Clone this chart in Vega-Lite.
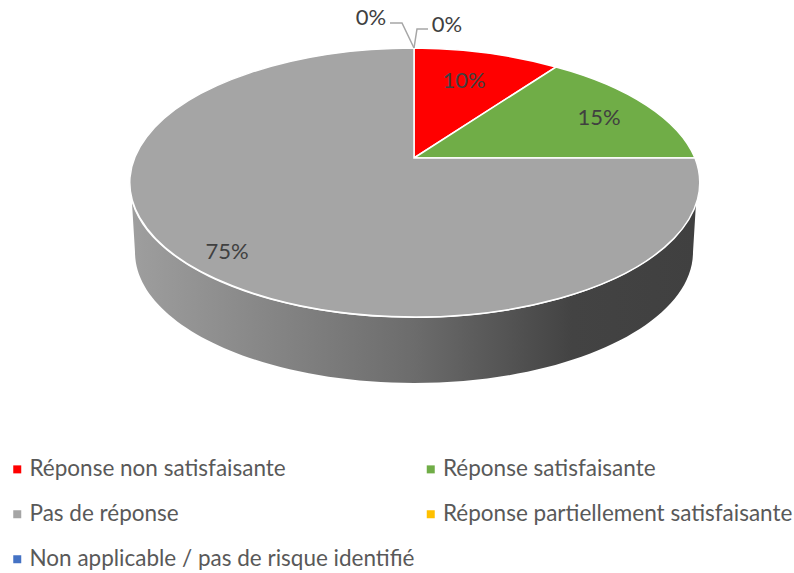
{"$schema":"https://vega.github.io/schema/vega-lite/v6.json","width":794,"height":573,"padding":0,"autosize":{"type":"none"},"background":"white","config":{"view":{"stroke":null},"font":"Lato"},"data":{"values":[{"categorie":"Réponse non satisfaisante","part":0.10},{"categorie":"Réponse satisfaisante","part":0.15},{"categorie":"Pas de réponse","part":0.75},{"categorie":"Réponse partiellement satisfaisante","part":0},{"categorie":"Non applicable / pas de risque identifié","part":0}]},"layer":[{"transform":[{"filter":"datum.categorie==='Pas de réponse'"}],"mark":{"type":"point","filled":true,"opacity":1,"size":4,"shape":"M-265,-83.5 L-262,-34.5 A279,131 0 0 0 296,-34.5 L299,-83.5 A285,134.5 0 0 1 -265,-83.5 Z","fill":{"gradient":"linear","x1":0,"y1":0,"x2":1,"y2":0,"stops":[{"offset":0,"color":"#9e9e9e"},{"offset":0.5,"color":"#6c6c6c"},{"offset":0.78,"color":"#434343"},{"offset":1,"color":"#404040"}]}}},{"transform":[{"filter":"datum.categorie==='Réponse non satisfaisante'"}],"mark":{"type":"point","filled":true,"opacity":1,"size":4,"stroke":"white","strokeWidth":1.5,"shape":"M17,-128.5 L17,-238.5 A285,134.5 0 0 1 159,-219.5 Z"},"encoding":{"color":{"field":"categorie","type":"nominal","scale":{"domain":["Réponse non satisfaisante","Réponse satisfaisante","Pas de réponse","Réponse partiellement satisfaisante","Non applicable / pas de risque identifié"],"range":["#ff0000","#70ad47","#a5a5a5","#ffc000","#4472c4"]},"legend":{"title":null,"orient":"none","legendX":6,"legendY":458,"direction":"horizontal","columns":2,"symbolType":"square","symbolSize":64,"symbolOpacity":1,"symbolStrokeWidth":0,"labelFont":"Lato","labelFontSize":22.5,"labelColor":"#595959","labelLimit":500,"labelOffset":1,"rowPadding":22,"columnPadding":4.5,"padding":0}}}},{"transform":[{"filter":"datum.categorie==='Réponse satisfaisante'"}],"mark":{"type":"point","filled":true,"opacity":1,"size":4,"stroke":"white","strokeWidth":1.5,"shape":"M17,-128.5 L159,-219.5 A285,134.5 0 0 1 298,-128.5 Z"},"encoding":{"color":{"field":"categorie","type":"nominal","legend":null}}},{"transform":[{"filter":"datum.categorie==='Pas de réponse'"}],"mark":{"type":"point","filled":true,"opacity":1,"size":4,"stroke":"white","strokeWidth":1.5,"shape":"M17,-128.5 L298,-128.5 A285,134.5 0 1 1 17,-238.5 Z"},"encoding":{"color":{"field":"categorie","type":"nominal","legend":null}}},{"transform":[{"filter":"datum.categorie==='Réponse partiellement satisfaisante'"}],"mark":{"type":"point","filled":false,"opacity":1,"size":4,"stroke":"#a6a6a6","strokeWidth":1.5,"shape":"M-7,-263.5 L5,-263.5 L17,-238.5"}},{"transform":[{"filter":"datum.categorie==='Non applicable / pas de risque identifié'"}],"mark":{"type":"point","filled":false,"opacity":1,"size":4,"stroke":"#a6a6a6","strokeWidth":1.5,"shape":"M31,-257.5 L20,-257.5 L17,-238.5"}},{"transform":[{"filter":"datum.categorie==='Réponse non satisfaisante'"}],"mark":{"type":"text","dx":67,"dy":-206,"fontSize":22,"font":"Lato","color":"#404040"},"encoding":{"text":{"field":"part","format":".0%"}}},{"transform":[{"filter":"datum.categorie==='Réponse satisfaisante'"}],"mark":{"type":"text","dx":202,"dy":-169,"fontSize":22,"font":"Lato","color":"#404040"},"encoding":{"text":{"field":"part","format":".0%"}}},{"transform":[{"filter":"datum.categorie==='Pas de réponse'"}],"mark":{"type":"text","dx":-170,"dy":-35,"fontSize":22,"font":"Lato","color":"#404040"},"encoding":{"text":{"field":"part","format":".0%"}}},{"transform":[{"filter":"datum.categorie==='Réponse partiellement satisfaisante'"}],"mark":{"type":"text","dx":-26,"dy":-269,"fontSize":22,"font":"Lato","color":"#404040"},"encoding":{"text":{"field":"part","format":".0%"}}},{"transform":[{"filter":"datum.categorie==='Non applicable / pas de risque identifié'"}],"mark":{"type":"text","dx":50,"dy":-262,"fontSize":22,"font":"Lato","color":"#404040"},"encoding":{"text":{"field":"part","format":".0%"}}}]}
